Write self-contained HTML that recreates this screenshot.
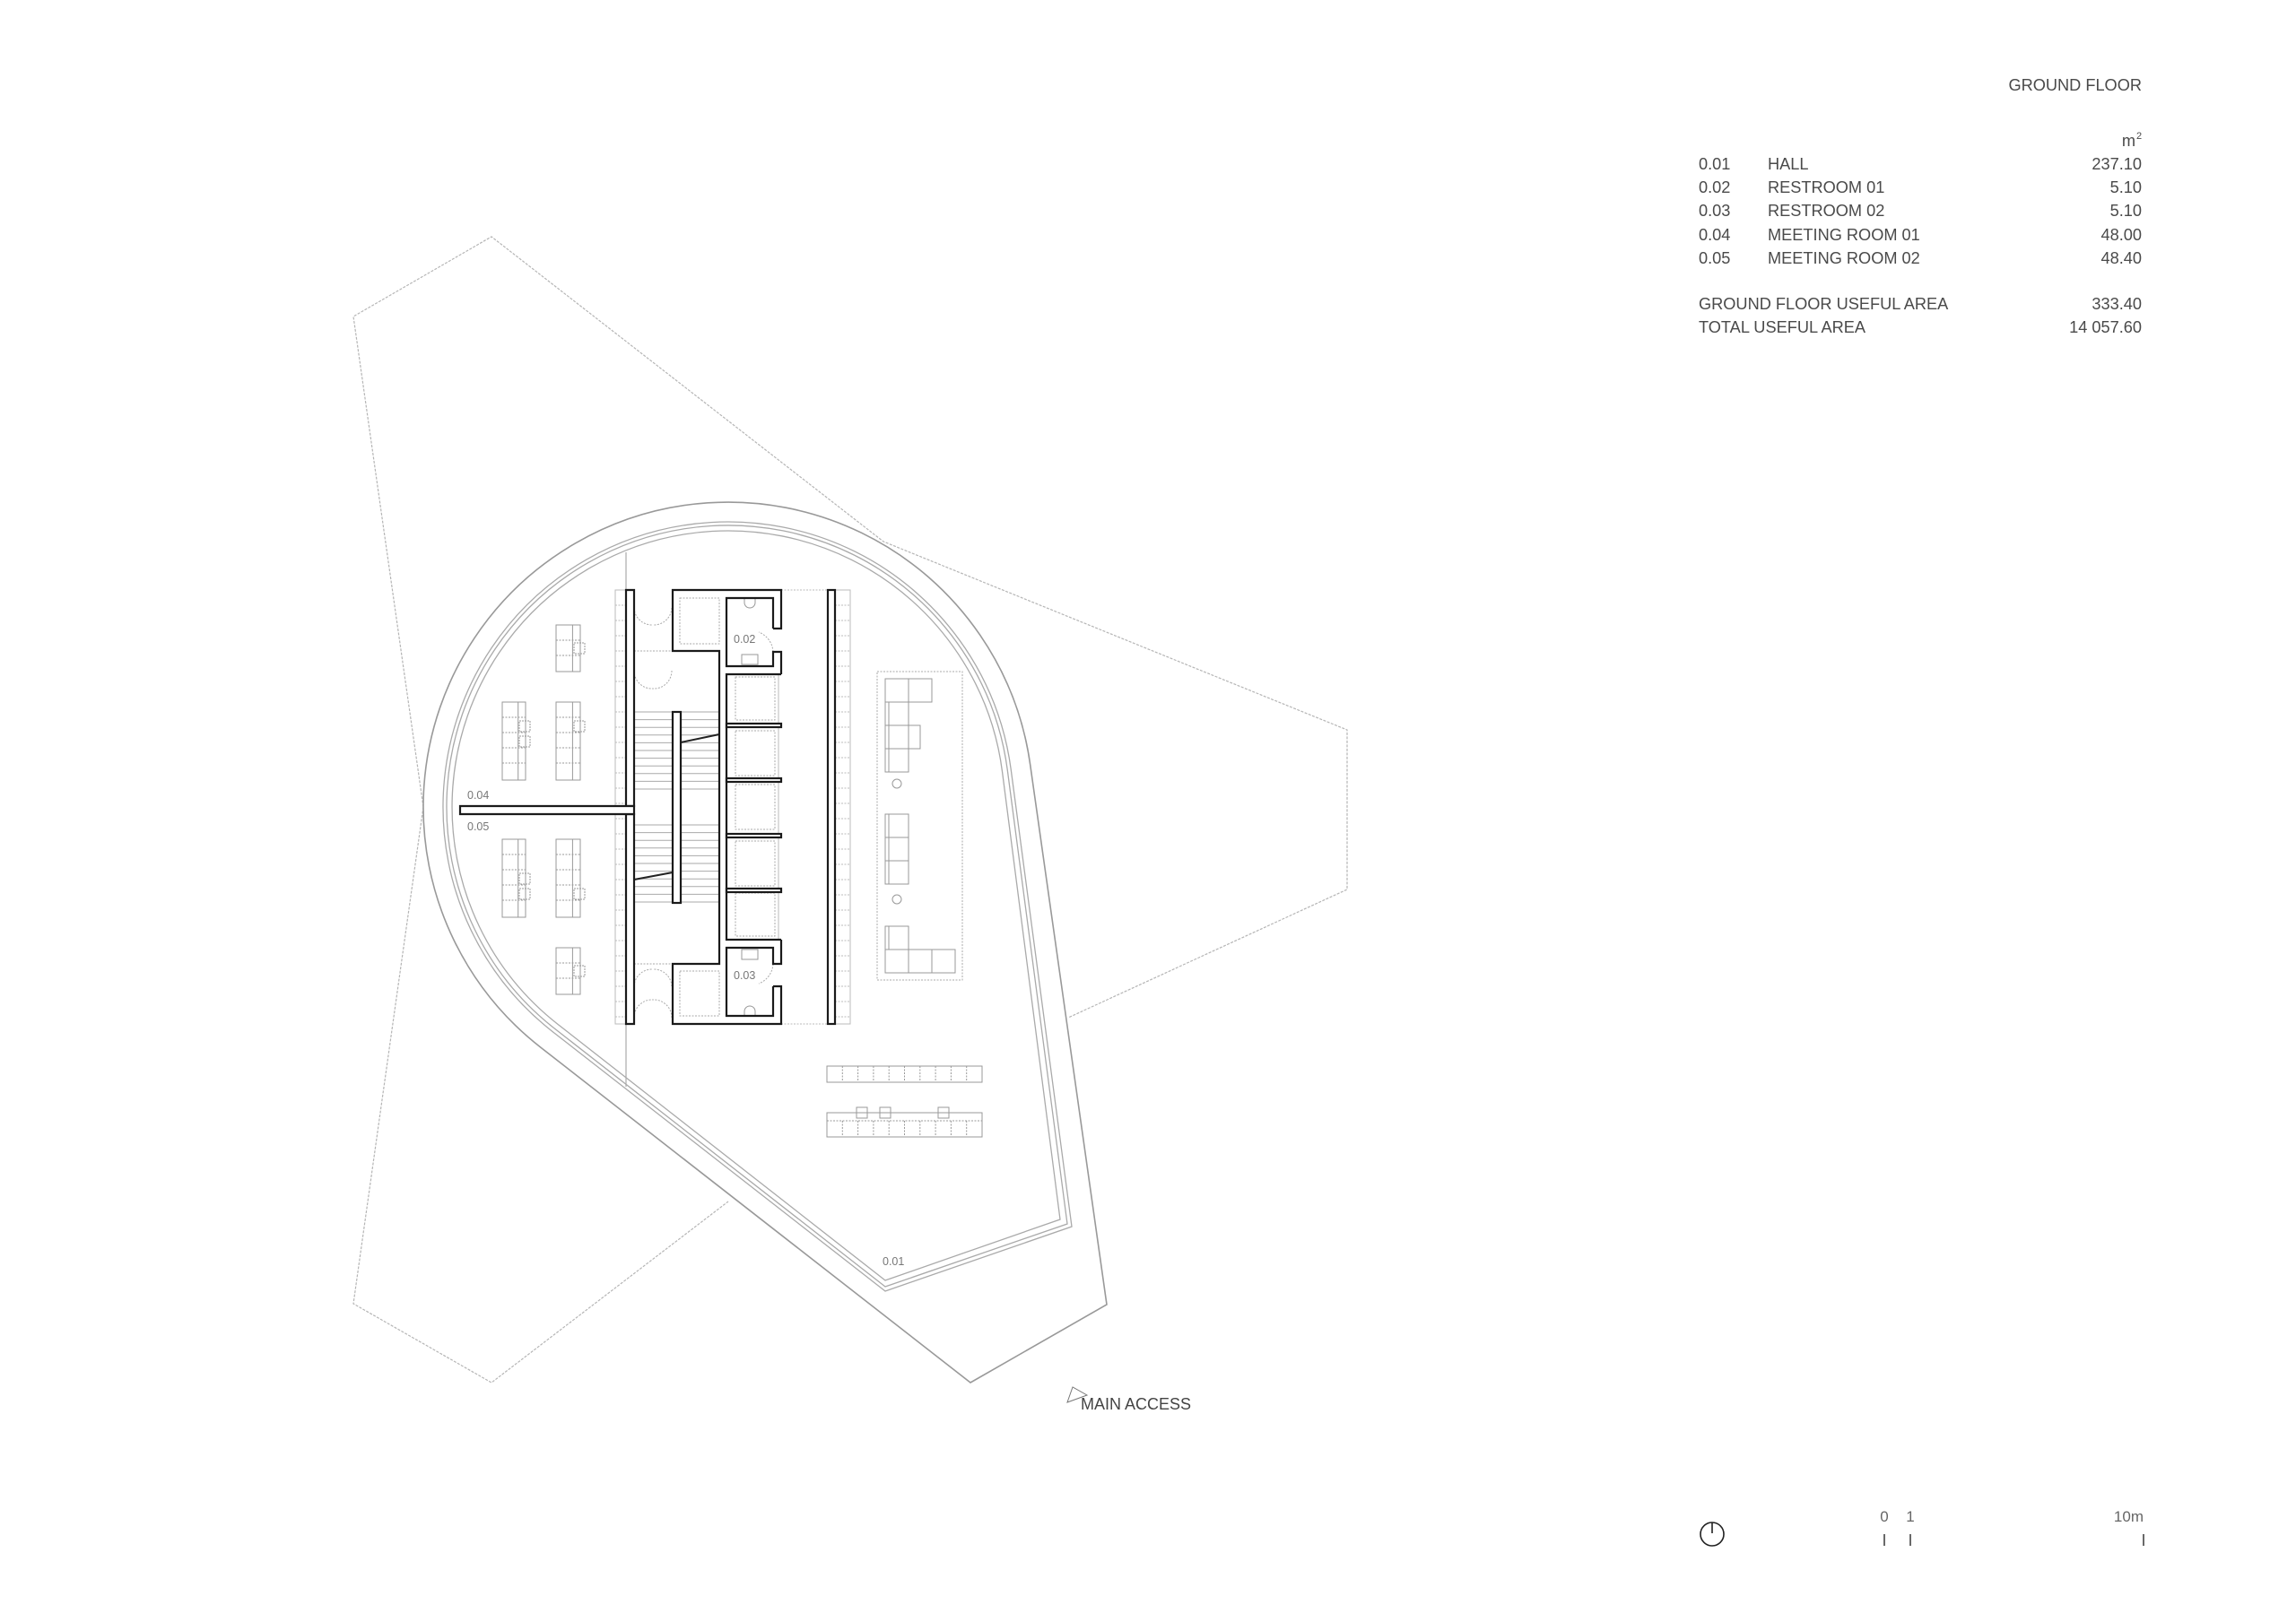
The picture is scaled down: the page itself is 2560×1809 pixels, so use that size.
<!DOCTYPE html>
<html><head><meta charset="utf-8">
<style>
html,body{margin:0;padding:0;background:#fff;}
svg{display:block;}
text{font-family:"Liberation Sans",Arial,sans-serif;}
</style></head>
<body>
<svg width="2560" height="1809" viewBox="0 0 2560 1809" xmlns="http://www.w3.org/2000/svg">
<rect width="2560" height="1809" fill="#fff"/>
<g fill="none" stroke="#b5b5b5" stroke-width="1.2" stroke-dasharray="3 1.5">
  <polyline points="472,900 394,353 548,264 985,604 1502,814 1502,992 1191,1135"/>
  <polyline points="472,900 394,1454 548,1542 812,1340"/>
</g>
<path fill="none" stroke="#999" stroke-width="1.6" d="M1082,1542 L602.8,1168.1 A340,340 0 1 1 1148.6,852.3 L1234,1455 Z"/>
<path fill="none" stroke="#aaa" stroke-width="1.3" d="M987,1440 L616.3,1150.7 A318,318 0 1 1 1127.2,858.1 L1195,1368 Z"/>
<path fill="none" stroke="#aaa" stroke-width="1.3" d="M987,1435 L618.7,1147.4 A314,314 0 1 1 1123.3,859 L1190,1365 Z"/>
<path fill="none" stroke="#aaa" stroke-width="1.3" d="M987,1428 L622.3,1142.6 A308,308 0 1 1 1117.5,860.5 L1182,1360 Z"/>

<line x1="698" y1="616" x2="698" y2="1212" stroke="#aaa" stroke-width="1.2"/>

<g stroke="#bbb" stroke-width="1" fill="none">
  <rect x="686" y="658" width="12" height="484"/>
  <rect x="931" y="658" width="17" height="484"/>
  <line x1="871" y1="658" x2="931" y2="658" stroke-dasharray="2 1.5"/>
  <line x1="871" y1="1142" x2="931" y2="1142" stroke-dasharray="2 1.5"/>
  <line x1="868" y1="752" x2="868" y2="1048"/>
  <path stroke-dasharray="2 1.5" d="M686,675h12M931,675h17M686,692h12M931,692h17M686,709h12M931,709h17M686,726h12M931,726h17M686,743h12M931,743h17M686,760h12M931,760h17M686,777h12M931,777h17M686,794h12M931,794h17M686,811h12M931,811h17M686,828h12M931,828h17M686,845h12M931,845h17M686,862h12M931,862h17M686,879h12M931,879h17M686,896h12M931,896h17M686,913h12M931,913h17M686,930h12M931,930h17M686,947h12M931,947h17M686,964h12M931,964h17M686,981h12M931,981h17M686,998h12M931,998h17M686,1015h12M931,1015h17M686,1032h12M931,1032h17M686,1049h12M931,1049h17M686,1066h12M931,1066h17M686,1083h12M931,1083h17M686,1100h12M931,1100h17M686,1117h12M931,1117h17M686,1134h12M931,1134h17"/>
</g>

<path stroke="#aaa" stroke-width="1" fill="none" d="M707,794h95M707,802.6h95M707,811.2h95M707,819.8h95M707,828.4h95M707,837h95M707,845.6h95M707,854.2h95M707,862.8h95M707,871.4h95M707,880h95M707,920h95M707,928.6h95M707,937.2h95M707,945.8h95M707,954.4h95M707,963h95M707,971.6h95M707,980.2h95M707,988.8h95M707,997.4h95M707,1006h95"/>
<g stroke="#222" stroke-width="2">
  <line x1="759" y1="828" x2="802" y2="819"/>
  <line x1="707" y1="981" x2="750" y2="973"/>
</g>

<g fill="none" stroke="#aaa" stroke-width="1" stroke-dasharray="2 1.5">
  <rect x="758" y="667" width="44" height="51"/>
  <rect x="758" y="1083" width="44" height="50"/>
  <rect x="820" y="755" width="44" height="48"/>
  <rect x="820" y="815" width="44" height="50"/>
  <rect x="820" y="875" width="44" height="50"/>
  <rect x="820" y="938" width="44" height="50"/>
  <rect x="820" y="996" width="44" height="48"/>
  <path d="M707,678 A20,20 0 0 0 728,697 M749,678 A20,20 0 0 1 728,697"/>
  <path d="M707,748 A20,20 0 0 0 728,768 M749,748 A20,20 0 0 1 728,768"/>
  <path d="M707,1100 A20,20 0 0 1 728,1081 M749,1100 A20,20 0 0 0 728,1081"/>
  <path d="M707,1135 A20,20 0 0 1 728,1115 M749,1135 A20,20 0 0 0 728,1115"/>
  <line x1="707" y1="726" x2="750" y2="726"/>
  <line x1="707" y1="1075" x2="750" y2="1075"/>
  <path d="M862,727 A25,25 0 0 0 846,705"/>
  <path d="M862,1075 A25,25 0 0 1 846,1097"/>
</g>
<g fill="none" stroke="#999" stroke-width="1">
  <rect x="827" y="730" width="18" height="11"/>
  <rect x="827" y="1059" width="18" height="11"/>
  <path d="M830,667 v5 a6,6 0 0 0 12,0 v-5"/>
  <path d="M830,1133 v-5 a6,6 0 0 1 12,0 v5"/>
</g>

<g fill="#fff" stroke="#1a1a1a" stroke-width="2.2" stroke-linejoin="miter">
  <path d="M698,658 L707,658 L707,899 L698,899 Z"/>
  <path d="M698,908 L707,908 L707,1142 L698,1142 Z"/>
  <path d="M513,899 L707,899 L707,908 L513,908 Z"/>
  <rect x="923" y="658" width="8" height="484"/>
  <rect x="750" y="794" width="9" height="213"/>
  <path fill="none" d="M862,701 L871,701 L871,658 L750,658 L750,726 L802,726 L802,1075 L750,1075 L750,1142 L871,1142 L871,1100 L862,1100"/>
  <path fill="none" d="M862,701 L862,667 L810,667 L810,743 L862,743 L862,727 L871,727 L871,752"/>
  <path fill="none" d="M862,1100 L862,1133 L810,1133 L810,1057 L862,1057 L862,1075 L871,1075 L871,1048"/>
  <path fill="none" d="M871,752 L810,752 L810,1048 L871,1048"/>
  <rect x="810" y="807" width="61" height="4"/>
  <rect x="810" y="868" width="61" height="4"/>
  <rect x="810" y="930" width="61" height="4"/>
  <rect x="810" y="991" width="61" height="4"/>
</g>

<g fill="none" stroke="#999" stroke-width="1">
  <rect x="620" y="697" width="27" height="52"/><line x1="638.4" y1="697" x2="638.4" y2="749"/>
  <rect x="560" y="783" width="26" height="87"/><line x1="577.7" y1="783" x2="577.7" y2="870"/>
  <rect x="620" y="783" width="27" height="87"/><line x1="638.4" y1="783" x2="638.4" y2="870"/>
  <rect x="560" y="936" width="26" height="87"/><line x1="577.7" y1="936" x2="577.7" y2="1023"/>
  <rect x="620" y="936" width="27" height="87"/><line x1="638.4" y1="936" x2="638.4" y2="1023"/>
  <rect x="620" y="1057" width="27" height="52"/><line x1="638.4" y1="1057" x2="638.4" y2="1109"/>
  <path stroke-dasharray="2 1.5" d="M620,714h27M620,731h27M560,800h26M560,817h26M560,834h26M560,851h26M620,800h27M620,817h27M620,834h27M620,851h27M560,953h26M560,970h26M560,987h26M560,1004h26M620,953h27M620,970h27M620,987h27M620,1004h27M620,1074h27M620,1091h27"/>
  <g stroke-dasharray="2 1">
    <rect x="640" y="717" width="12" height="12"/>
    <rect x="579" y="804" width="12" height="12"/><rect x="579" y="821" width="12" height="12"/>
    <rect x="640" y="804" width="12" height="12"/>
    <rect x="579" y="974" width="12" height="12"/><rect x="579" y="991" width="12" height="12"/>
    <rect x="640" y="991" width="12" height="12"/>
    <rect x="640" y="1077" width="12" height="12"/>
  </g>
</g>

<g fill="none" stroke="#999" stroke-width="1">
  <rect x="978" y="749" width="95" height="344" stroke-dasharray="2 1.5" stroke="#aaa"/>
  <rect x="987" y="757" width="26" height="26"/><rect x="1013" y="757" width="26" height="26"/>
  <rect x="987" y="783" width="26" height="26"/><rect x="987" y="809" width="26" height="26"/>
  <rect x="1013" y="809" width="13" height="26"/><rect x="987" y="835" width="26" height="26"/>
  <line x1="991" y1="783" x2="991" y2="861"/>
  <circle cx="1000" cy="874" r="5"/>
  <rect x="987" y="908" width="26" height="26"/><rect x="987" y="934" width="26" height="26"/><rect x="987" y="960" width="26" height="26"/>
  <line x1="991" y1="908" x2="991" y2="986"/>
  <circle cx="1000" cy="1003" r="5"/>
  <rect x="987" y="1033" width="26" height="26"/><rect x="987" y="1059" width="26" height="26"/>
  <rect x="1013" y="1059" width="26" height="26"/><rect x="1039" y="1059" width="26" height="26"/>
  <line x1="991" y1="1033" x2="991" y2="1059"/>
</g>

<g fill="none" stroke="#999" stroke-width="1">
  <rect x="922" y="1189" width="173" height="18"/>
  <rect x="922" y="1241" width="173" height="27"/>
  <path stroke-dasharray="2 1.5" d="M922,1250h173M939.3,1189v18M956.6,1189v18M973.9,1189v18M991.2,1189v18M1008.5,1189v18M1025.8,1189v18M1043.1,1189v18M1060.4,1189v18M1077.7,1189v18M939.3,1250v18M956.6,1250v18M973.9,1250v18M991.2,1250v18M1008.5,1250v18M1025.8,1250v18M1043.1,1250v18M1060.4,1250v18M1077.7,1250v18"/>
  <rect x="955" y="1235" width="12" height="12"/><rect x="981" y="1235" width="12" height="12"/><rect x="1046" y="1235" width="12" height="12"/>
</g>

<g fill="#777" font-size="12.5">
  <text x="521" y="891">0.04</text>
  <text x="521" y="926">0.05</text>
  <text x="818" y="717">0.02</text>
  <text x="818" y="1092">0.03</text>
  <text x="984" y="1411">0.01</text>
</g>
<path d="M1196,1547 L1190,1564 L1212,1556 Z" fill="none" stroke="#777" stroke-width="1"/>
<text x="1205" y="1572" font-size="18" fill="#444">MAIN ACCESS</text>

<g fill="#4a4a4a" font-size="18.2">
  <text x="2388" y="101" text-anchor="end">GROUND FLOOR</text>
  <text x="2381" y="163" text-anchor="end">m</text><text x="2382" y="155" font-size="11">2</text>
  <text x="1894" y="189">0.01</text><text x="1971" y="189">HALL</text><text x="2388" y="189" text-anchor="end">237.10</text>
  <text x="1894" y="215">0.02</text><text x="1971" y="215">RESTROOM 01</text><text x="2388" y="215" text-anchor="end">5.10</text>
  <text x="1894" y="241">0.03</text><text x="1971" y="241">RESTROOM 02</text><text x="2388" y="241" text-anchor="end">5.10</text>
  <text x="1894" y="268">0.04</text><text x="1971" y="268">MEETING ROOM 01</text><text x="2388" y="268" text-anchor="end">48.00</text>
  <text x="1894" y="294">0.05</text><text x="1971" y="294">MEETING ROOM 02</text><text x="2388" y="294" text-anchor="end">48.40</text>
  <text x="1894" y="345">GROUND FLOOR USEFUL AREA</text><text x="2388" y="345" text-anchor="end">333.40</text>
  <text x="1894" y="371">TOTAL USEFUL AREA</text><text x="2388" y="371" text-anchor="end">14 057.60</text>
</g>

<circle cx="1909" cy="1711" r="13" fill="none" stroke="#222" stroke-width="1.6"/>
<line x1="1909" y1="1698" x2="1909" y2="1710" stroke="#222" stroke-width="1.6"/>
<g stroke="#444" stroke-width="1.6">
  <line x1="2101" y1="1711" x2="2101" y2="1724"/>
  <line x1="2130" y1="1711" x2="2130" y2="1724"/>
  <line x1="2390" y1="1711" x2="2390" y2="1724"/>
</g>
<g fill="#666" font-size="17">
  <text x="2101" y="1697" text-anchor="middle">0</text>
  <text x="2130" y="1697" text-anchor="middle">1</text>
  <text x="2390" y="1697" text-anchor="end">10m</text>
</g>
</svg>
</body></html>
